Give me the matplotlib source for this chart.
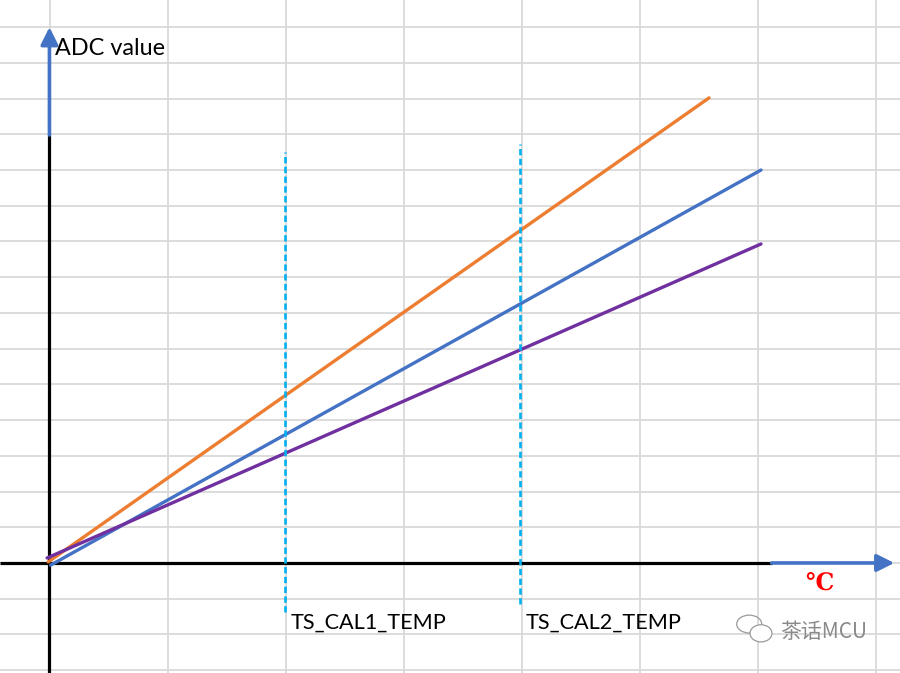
import numpy as np
import matplotlib
matplotlib.use("Agg")
import matplotlib.pyplot as plt
from matplotlib.patches import Ellipse

# --- data (grid units: one cell across = 1, one cell up = 1) ---
cal_names = ["TS_CAL1_TEMP", "TS_CAL2_TEMP"]
cal_x = [2.0, 3.99]
cal_top = [11.5, 11.73]
cal_bottom = [-1.37, -1.15]

line_colors = ["#ed7d31", "#4472c4", "#7030a0"]
line_x0 = [-0.01, 0.01, -0.02]
line_y0 = [0.03, -0.06, 0.14]
line_x1 = [5.59, 6.03, 6.03]
line_y1 = [13.02, 11.0, 8.93]

grid_x = np.arange(0, 8)
grid_y = np.arange(-3, 16)

xmin, xmax = -0.419, 7.208
ymin, ymax = -3.08, 15.76

fig = plt.figure(figsize=(9, 6.73), dpi=100)
ax = fig.add_axes([0, 0, 1, 1])
ax.set_xlim(xmin, xmax)
ax.set_ylim(ymin, ymax)
ax.axis("off")

# spreadsheet grid
for gx in grid_x:
    ax.axvline(gx + 0.004, color="#d9d9d9", lw=1.3, zorder=0)
for gy in grid_y:
    ax.axhline(gy, color="#d9d9d9", lw=1.3, zorder=0)

# axes: black part then blue arrow
blue = "#4472c4"
ax.plot([xmin, 6.12], [0, 0], color="black", lw=2.3, zorder=3, solid_capstyle="butt")
ax.plot([0, 0], [ymin, 11.98], color="black", lw=2.3, zorder=3, solid_capstyle="butt")
ax.annotate("", xy=(7.16, 0), xytext=(6.12, 0),
            arrowprops=dict(arrowstyle="-|>", color=blue, lw=2.6,
                            mutation_scale=26, shrinkA=0, shrinkB=0), zorder=3)
ax.annotate("", xy=(0, 15.0), xytext=(0, 11.98),
            arrowprops=dict(arrowstyle="-|>", color=blue, lw=2.6,
                            mutation_scale=26, shrinkA=0, shrinkB=0), zorder=3)

# ADC lines
for c, x0, y0, x1, y1 in zip(line_colors, line_x0, line_y0, line_x1, line_y1):
    ax.plot([x0, x1], [y0, y1], color=c, lw=2.4, zorder=4, solid_capstyle="round")

# calibration markers
for name, cx, top, bot in zip(cal_names, cal_x, cal_top, cal_bottom):
    ax.plot([cx, cx], [bot, top], color="#00b0f0", lw=1.9, ls=(0, (2.4, 1.3)), zorder=5)
    ax.text(cx + 0.045, -1.66, name, fontsize=15.6, family="Lato",
            ha="left", va="center", color="black")

ax.text(0.047, 14.39, "ADC value", fontsize=16.8, family="Lato",
        ha="left", va="center", color="black")
ax.text(6.40, -0.56, "\u2103", fontsize=17, family="DejaVu Serif",
        fontweight="bold", color="#ff0000", ha="left", va="center")

# watermark
ax.add_patch(Ellipse((5.93, -1.71), 0.212, 0.50, fill=False, ec="#9a9a9a", lw=0.9, zorder=6))
ax.add_patch(Ellipse((6.03, -1.97), 0.186, 0.48, fc="white", ec="#9a9a9a", lw=0.9, zorder=6))
ax.text(6.19, -1.93, "茶话MCU", fontsize=15, family=["Noto Sans CJK SC", "DejaVu Sans"],
        color="#8a8a8a", ha="left", va="center", zorder=7)

fig.savefig("out.png", dpi=100)
